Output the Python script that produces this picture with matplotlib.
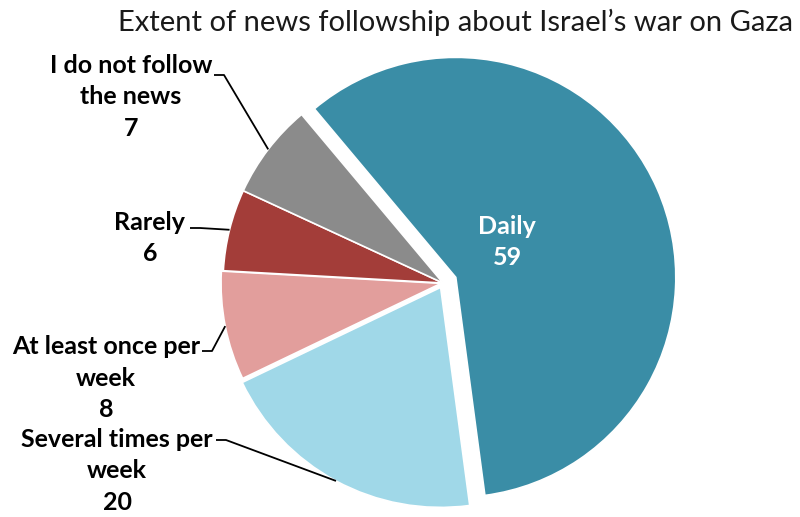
import matplotlib
matplotlib.use("Agg")
import matplotlib.pyplot as plt
import numpy as np

# Survey shares (%)
categories = ["Daily", "Several times per\nweek", "At least once per\nweek", "Rarely", "I do not follow\nthe news"]
values = [59, 20, 8, 6, 7]
colors = ["#3A8DA6", "#A0D8E8", "#E29E9C", "#A33D39", "#8B8B8B"]
explode = [14, 5, 2, 0, 0]

W, H = 800, 517
fig = plt.figure(figsize=(W / 100, H / 100), dpi=100)
ax = fig.add_axes([0, 0, 1, 1])

cx, cy, R = 443, H - 283, 220
wedges, _ = ax.pie(values, colors=colors, startangle=130, counterclock=False,
                   explode=explode, radius=R, center=(cx, cy),
                   wedgeprops=dict(edgecolor="white", linewidth=1.2),
                   frame=True)
ax.set_xlim(0, W)
ax.set_ylim(0, H)
ax.set_aspect("equal")
ax.axis("off")

font = "Lato"
ax.text(456, H - 22, "Extent of news followship about Israel\u2019s war on Gaza",
        ha="center", va="center", fontsize=21, family=font, color="#1a1a1a")


def arc_mid(w):
    a = np.deg2rad((w.theta1 + w.theta2) / 2)
    x0, y0 = w.center
    return x0 + w.r * np.cos(a), y0 + w.r * np.sin(a)


lab_kw = dict(ha="center", va="center", fontsize=18, family=font,
              fontweight="bold", linespacing=1.45)

# Daily label inside the slice
ax.text(507, H - 242, f"{categories[0]}\n{values[0]}", color="white", **lab_kw)

# Outside labels: (text centre, start of leader line)
outside = {
    4: ((131, H - 97), (214, H - 75)),
    3: ((150, H - 238), (190, H - 228)),
    2: ((106, H - 378), (202, H - 351)),
    1: ((117, H - 471), (216, H - 440)),
}
for i, ((tx, ty), (lx, ly)) in outside.items():
    ax.text(tx, ty, f"{categories[i]}\n{values[i]}", color="black", **lab_kw)
    px, py = arc_mid(wedges[i])
    ax.plot([lx, lx + 10, px], [ly, ly, py], color="black", lw=1.3,
            solid_capstyle="butt")

fig.savefig("out.png", dpi=100)
